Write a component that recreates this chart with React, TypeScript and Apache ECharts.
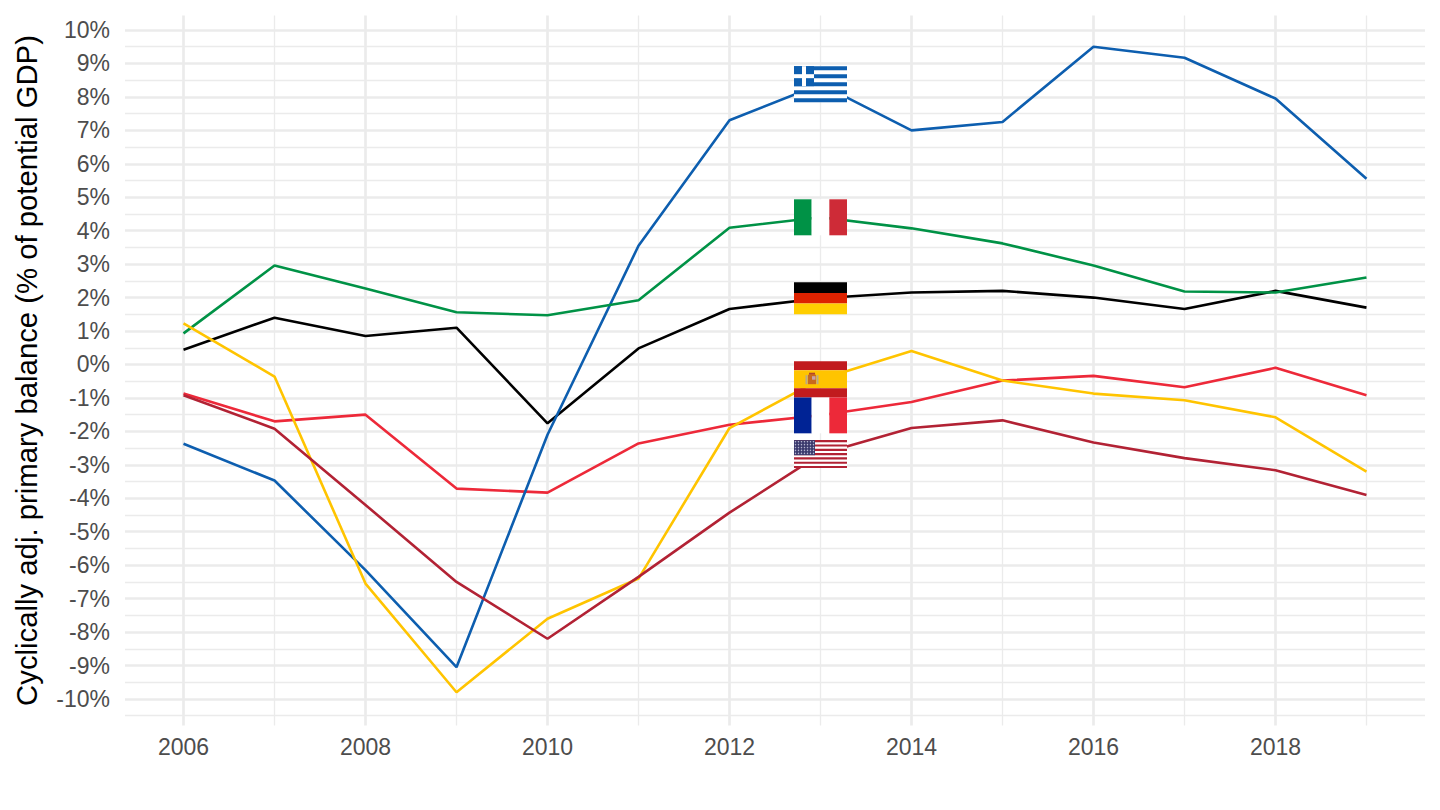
import React, { useEffect, useRef } from "react";
import * as echarts from "echarts";

const years = [2006, 2007, 2008, 2009, 2010, 2011, 2012, 2013, 2014, 2015, 2016, 2017, 2018, 2019];
const greece = [-2.37, -3.47, -6.15, -9.05, -2.1, 3.55, 7.3, 8.38, 7.0, 7.25, 9.5, 9.17, 7.95, 5.55];
const italy = [0.93, 2.96, 2.27, 1.56, 1.47, 1.92, 4.09, 4.4, 4.07, 3.62, 2.96, 2.18, 2.15, 2.6];
const germany = [0.44, 1.4, 0.85, 1.1, -1.76, 0.48, 1.66, 1.98, 2.15, 2.2, 2.0, 1.66, 2.2, 1.7];
const spain = [1.23, -0.36, -6.55, -9.8, -7.6, -6.4, -1.9, -0.44, 0.4, -0.48, -0.87, -1.07, -1.58, -3.2];
const france = [-0.87, -1.7, -1.5, -3.71, -3.83, -2.36, -1.8, -1.52, -1.12, -0.48, -0.34, -0.68, -0.1, -0.92];
const usa = [-0.92, -1.92, -4.2, -6.5, -8.2, -6.35, -4.43, -2.68, -1.9, -1.67, -2.33, -2.8, -3.16, -3.9];

const xMajorTicks = [2006, 2008, 2010, 2012, 2014, 2016, 2018];
const xMinorTicks = [2007, 2009, 2011, 2013, 2015, 2017, 2019];
const yMajorTicks = [-10, -9, -8, -7, -6, -5, -4, -3, -2, -1, 0, 1, 2, 3, 4, 5, 6, 7, 8, 9, 10];
const yMinorTicks = [-10.5, -9.5, -8.5, -7.5, -6.5, -5.5, -4.5, -3.5, -2.5, -1.5, -0.5, 0.5, 1.5, 2.5, 3.5, 4.5, 5.5, 6.5, 7.5, 8.5, 9.5];

const seriesList = [
  { name: "France", values: france, color: "#ED2939" },
  { name: "Germany", values: germany, color: "#000000" },
  { name: "Greece", values: greece, color: "#0D5EAF" },
  { name: "Italy", values: italy, color: "#009246" },
  { name: "Spain", values: spain, color: "#FFC400" },
  { name: "United States", values: usa, color: "#B22234" },
];

const flagYear = 2013;
const FONT = '"Liberation Sans", Arial, sans-serif';
const GRID = "#EBEBEB";

const rect = (x: number, y: number, w: number, h: number, fill: string) => ({
  type: "rect",
  shape: { x, y, width: w, height: h },
  style: { fill },
});
const dot = (cx: number, cy: number, r: number, fill: string) => ({
  type: "circle",
  shape: { cx, cy, r },
  style: { fill },
});

function greeceFlag() {
  const c = "#0D5EAF";
  const W = 53, H = 36, s = H / 9;
  const out: any[] = [rect(-W / 2, -H / 2, W, H, "#FFFFFF")];
  for (let i = 0; i < 9; i += 2) out.push(rect(-W / 2, -H / 2 + i * s, W, s, c));
  out.push(rect(-W / 2, -H / 2, 5 * s, 5 * s, c));
  out.push(rect(-W / 2 + 2 * s, -H / 2, s, 5 * s, "#FFFFFF"));
  out.push(rect(-W / 2, -H / 2 + 2 * s, 5 * s, s, "#FFFFFF"));
  return out;
}
function italyFlag() {
  const W = 53, H = 36;
  return [
    rect(-W / 2, -H / 2, W / 3, H, "#009246"),
    rect(-W / 2 + W / 3, -H / 2, W / 3, H, "#FFFFFF"),
    rect(-W / 2 + (2 * W) / 3, -H / 2, W / 3, H, "#CE2B37"),
  ];
}
function franceFlag() {
  const W = 53, H = 36;
  return [
    rect(-W / 2, -H / 2, W / 3, H, "#002395"),
    rect(-W / 2 + W / 3, -H / 2, W / 3, H, "#FFFFFF"),
    rect(-W / 2 + (2 * W) / 3, -H / 2, W / 3, H, "#ED2939"),
  ];
}
function germanyFlag() {
  const W = 53, H = 32;
  return [
    rect(-W / 2, -H / 2, W, H / 3, "#000000"),
    rect(-W / 2, -H / 2 + H / 3, W, H / 3, "#DD2200"),
    rect(-W / 2, -H / 2 + (2 * H) / 3, W, H / 3, "#FFCE00"),
  ];
}
function spainFlag() {
  const W = 53, H = 36;
  return [
    rect(-W / 2, -H / 2, W, H / 4, "#C11B1E"),
    rect(-W / 2, -H / 4, W, H / 2, "#FFC400"),
    rect(-W / 2, H / 4, W, H / 4, "#C11B1E"),
    rect(-W / 2 + 11.5, -4, 2, 9, "#B9A98C"),
    rect(-W / 2 + 22.5, -4, 2, 9, "#B9A98C"),
    rect(-W / 2 + 14, -4.5, 8, 9.5, "#C8691E"),
    rect(-W / 2 + 15, -6.5, 6, 2, "#B5452A"),
    rect(-W / 2 + 18, -3, 3.5, 3.5, "#C9A3A8"),
  ];
}
function usaFlag() {
  const W = 53, H = 28, s = H / 13;
  const out: any[] = [rect(-W / 2, -H / 2, W, H, "#FFFFFF")];
  for (let i = 0; i < 13; i += 2) out.push(rect(-W / 2, -H / 2 + i * s, W, s, "#B22234"));
  const cw = 21, ch = 7 * s;
  out.push(rect(-W / 2, -H / 2, cw, ch, "#3C3B6E"));
  for (let r = 0; r < 5; r++) {
    for (let c = 0; c < 7; c++) {
      out.push(dot(-W / 2 + 1.5 + c * 3, -H / 2 + 1.6 + r * 2.9, 0.7, "#B5B5D0"));
    }
  }
  return out;
}

const flagDrawers: Record<string, () => any[]> = {
  Greece: greeceFlag,
  Italy: italyFlag,
  Germany: germanyFlag,
  Spain: spainFlag,
  France: franceFlag,
  "United States": usaFlag,
};

const X_MIN = 2005.357;
const X_MAX = 2019.643;
const Y_MIN = -10.79;
const Y_MAX = 10.43;

const flagIdx = years.indexOf(flagYear);
const flagData = seriesList.map((s) => ({ name: s.name, value: [flagYear, s.values[flagIdx]] }));

export default function App() {
  const ref = useRef<HTMLDivElement>(null);
  useEffect(() => {
    document.body.style.margin = "0";
    const chart = echarts.init(ref.current!, null, { renderer: "svg" });
    const sharedX = {
      type: "value",
      min: X_MIN,
      max: X_MAX,
      axisLine: { show: false },
    };
    const sharedY = {
      type: "value",
      min: Y_MIN,
      max: Y_MAX,
      axisLine: { show: false },
    };
    chart.setOption({
      animation: false,
      backgroundColor: "#FFFFFF",
      grid: { left: 125, right: 15, top: 15.6, bottom: 84.6, containLabel: false },
      xAxis: [
        {
          ...sharedX,
          position: "bottom",
          axisTick: { show: false, customValues: xMajorTicks },
          axisLabel: {
            customValues: xMajorTicks,
            color: "#4D4D4D",
            fontFamily: FONT,
            fontSize: 23,
            margin: 10,
            formatter: (v: number) => String(v),
          },
          splitLine: { show: true, lineStyle: { color: GRID, width: 2.7 } },
        },
        {
          ...sharedX,
          position: "bottom",
          axisTick: { show: false, customValues: xMinorTicks },
          axisLabel: { show: false },
          splitLine: { show: true, lineStyle: { color: GRID, width: 1.35 } },
        },
      ],
      yAxis: [
        {
          ...sharedY,
          name: "Cyclically adj. primary balance (% of potential GDP)",
          nameLocation: "middle",
          nameGap: 84,
          nameTextStyle: { color: "#000000", fontFamily: FONT, fontSize: 29.3 },
          axisTick: { show: false, customValues: yMajorTicks },
          axisLabel: {
            customValues: yMajorTicks,
            color: "#4D4D4D",
            fontFamily: FONT,
            fontSize: 23,
            margin: 15,
            padding: [2, 0, 0, 0],
            formatter: (v: number) => `${v}%`,
          },
          splitLine: { show: true, lineStyle: { color: GRID, width: 2.7 } },
        },
        {
          ...sharedY,
          axisTick: { show: false, customValues: yMinorTicks },
          axisLabel: { show: false },
          splitLine: { show: true, lineStyle: { color: GRID, width: 1.35 } },
        },
      ],
      series: [
        ...seriesList.map((s) => ({
          type: "line",
          name: s.name,
          data: years.map((y, i) => [y, s.values[i]]),
          showSymbol: false,
          symbol: "none",
          lineStyle: { color: s.color, width: 2.6 },
          itemStyle: { color: s.color },
          z: 3,
        })),
        {
          type: "custom",
          name: "flags",
          data: flagData,
          z: 5,
          clip: false,
          renderItem: (params: any, api: any) => {
            const pt = api.coord([api.value(0), api.value(1)]);
            const name = flagData[params.dataIndex].name;
            return { type: "group", x: pt[0], y: pt[1], children: flagDrawers[name]() };
          },
        },
      ],
    });
    return () => chart.dispose();
  }, []);
  return <div ref={ref} style={{ width: 1440, height: 810 }} />;
}
